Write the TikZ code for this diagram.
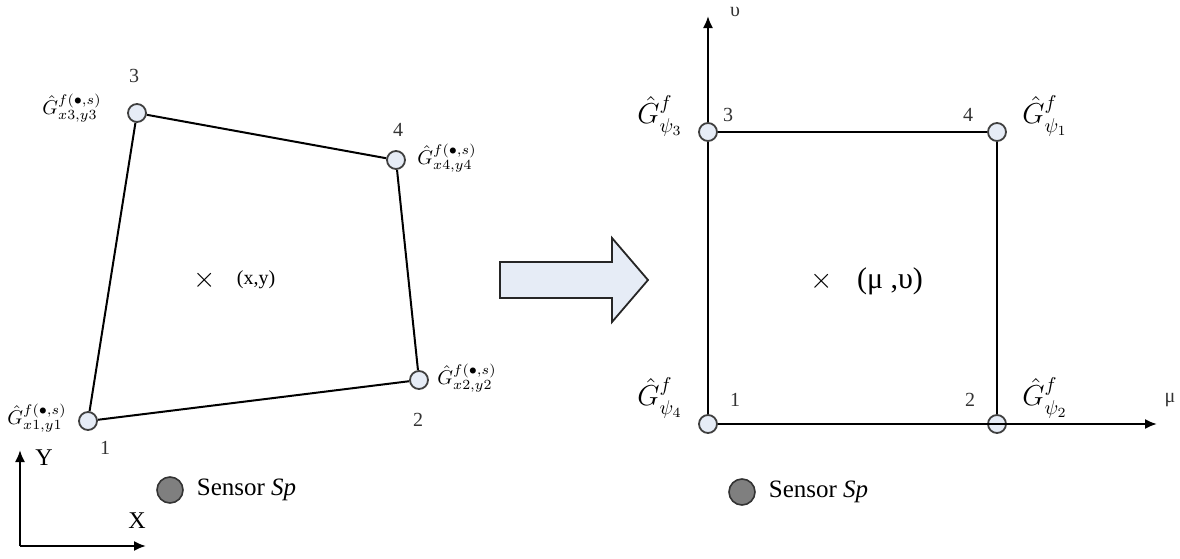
\documentclass[tikz,border=0pt]{standalone}
\usepackage{fontspec}
\usepackage{amsmath,amssymb}
\usepackage{xcolor}
\setmainfont{Liberation Serif}
\definecolor{ptfill}{HTML}{E6ECF6}
\definecolor{sensorfill}{HTML}{7F7F7F}
\usetikzlibrary{arrows.meta}

\begin{document}
\begin{tikzpicture}[x=0.5pt,y=-0.5pt,
  pt/.style={circle,draw=black!75,fill=ptfill,line width=0.9pt,minimum size=9pt,inner sep=0pt},
  edge/.style={line width=1pt},
  num/.style={font=\fontsize{10}{12}\selectfont,text=black!80},
  lbl/.style={font=\fontsize{12}{14}\selectfont},
  glbl/.style={font=\fontsize{14.5}{17}\selectfont,inner sep=1pt},
  sensor/.style={circle,draw=black!80,fill=sensorfill,line width=0.8pt,minimum size=13pt,inner sep=0pt},
  axis/.style={line width=1pt,-{Latex[length=6pt,width=5pt]}}]
\useasboundingbox (0,0) rectangle (1180,558);

% left element
\node[pt] (l1) at (88,421) {};
\node[pt] (l2) at (419,380) {};
\node[pt] (l4) at (396,160) {};
\node[pt] (l3) at (137,113) {};
\draw[edge] (l1)--(l2)--(l4)--(l3)--(l1);
\node[num] at (134,76) {3};
\node[num] at (398,130) {4};
\node[num] at (105,448) {1};
\node[num] at (418,420) {2};
\node[inner sep=1pt] (g3) at (72,108) {$\hat{G}^{f(\bullet,s)}_{x3,y3}$};
\node[inner sep=1pt] (g4) at (447,158) {$\hat{G}^{f(\bullet,s)}_{x4,y4}$};
\node[inner sep=1pt] (g2) at (467,378) {$\hat{G}^{f(\bullet,s)}_{x2,y2}$};
\node[inner sep=1pt] (g1) at (37,418) {$\hat{G}^{f(\bullet,s)}_{x1,y1}$};
\node (cl) at (205,280) {\Large$\times$};
\node[font=\fontsize{10}{12}\selectfont] (xy) at (256,280) {(x,y)};

% reference frame
\coordinate (o) at (20,546);
\coordinate (oy) at (20,450);
\coordinate (ox) at (146,546);
\draw[axis] (o)--(oy);
\draw[axis] (o)--(ox);
\node[lbl] at (44,458) {Y};
\node[lbl] at (137,521) {X};

% sensors
\node[sensor] (s1) at (170,490) {};
\node[anchor=west,font=\fontsize{12.5}{15}\selectfont] at ([xshift=3pt]s1.east) {Sensor \textit{Sp}};
\node[sensor] (s2) at (742,492) {};
\node[anchor=west,font=\fontsize{12.5}{15}\selectfont] at ([xshift=3pt]s2.east) {Sensor \textit{Sp}};

% mapping arrow
\coordinate (a0) at (500,280);
\draw[line width=0.9pt,draw=black!85,fill=ptfill]
  (500,262) -- (612,262) -- (612,238) -- (648,280) -- (612,322) -- (612,298) -- (500,298) -- cycle;

% right element
\node[pt] (r1) at (708,424) {};
\node[pt] (r2) at (997,424) {};
\node[pt] (r4) at (997,132) {};
\node[pt] (r3) at (708,132) {};
\coordinate (mu) at (1157,424);
\coordinate (nu) at (708,16);
\draw[axis] (r1)--(mu);
\draw[axis] (r3)--(nu);
\draw[edge] (r1)--(r3)--(r4)--(r2)--(r1);
\node[num] at (728,115) {3};
\node[num] at (968,115) {4};
\node[num] at (735,400) {1};
\node[num] at (970,400) {2};
\node[num] at (735,12) {υ};
\node[num] at (1170,400) {μ};
\node[glbl,anchor=east] (h3) at (685,116) {$\hat{G}^{f}_{\psi_3}$};
\node[glbl,anchor=west] (h1) at (1020,116) {$\hat{G}^{f}_{\psi_1}$};
\node[glbl,anchor=east] (h4) at (685,398) {$\hat{G}^{f}_{\psi_4}$};
\node[glbl,anchor=west] (h2) at (1020,398) {$\hat{G}^{f}_{\psi_2}$};
\node (cr) at (822,281) {\Large$\times$};
\node[font=\fontsize{15}{18}\selectfont] (muv) at (890,281) {(μ ,υ)};
\end{tikzpicture}
\end{document}
